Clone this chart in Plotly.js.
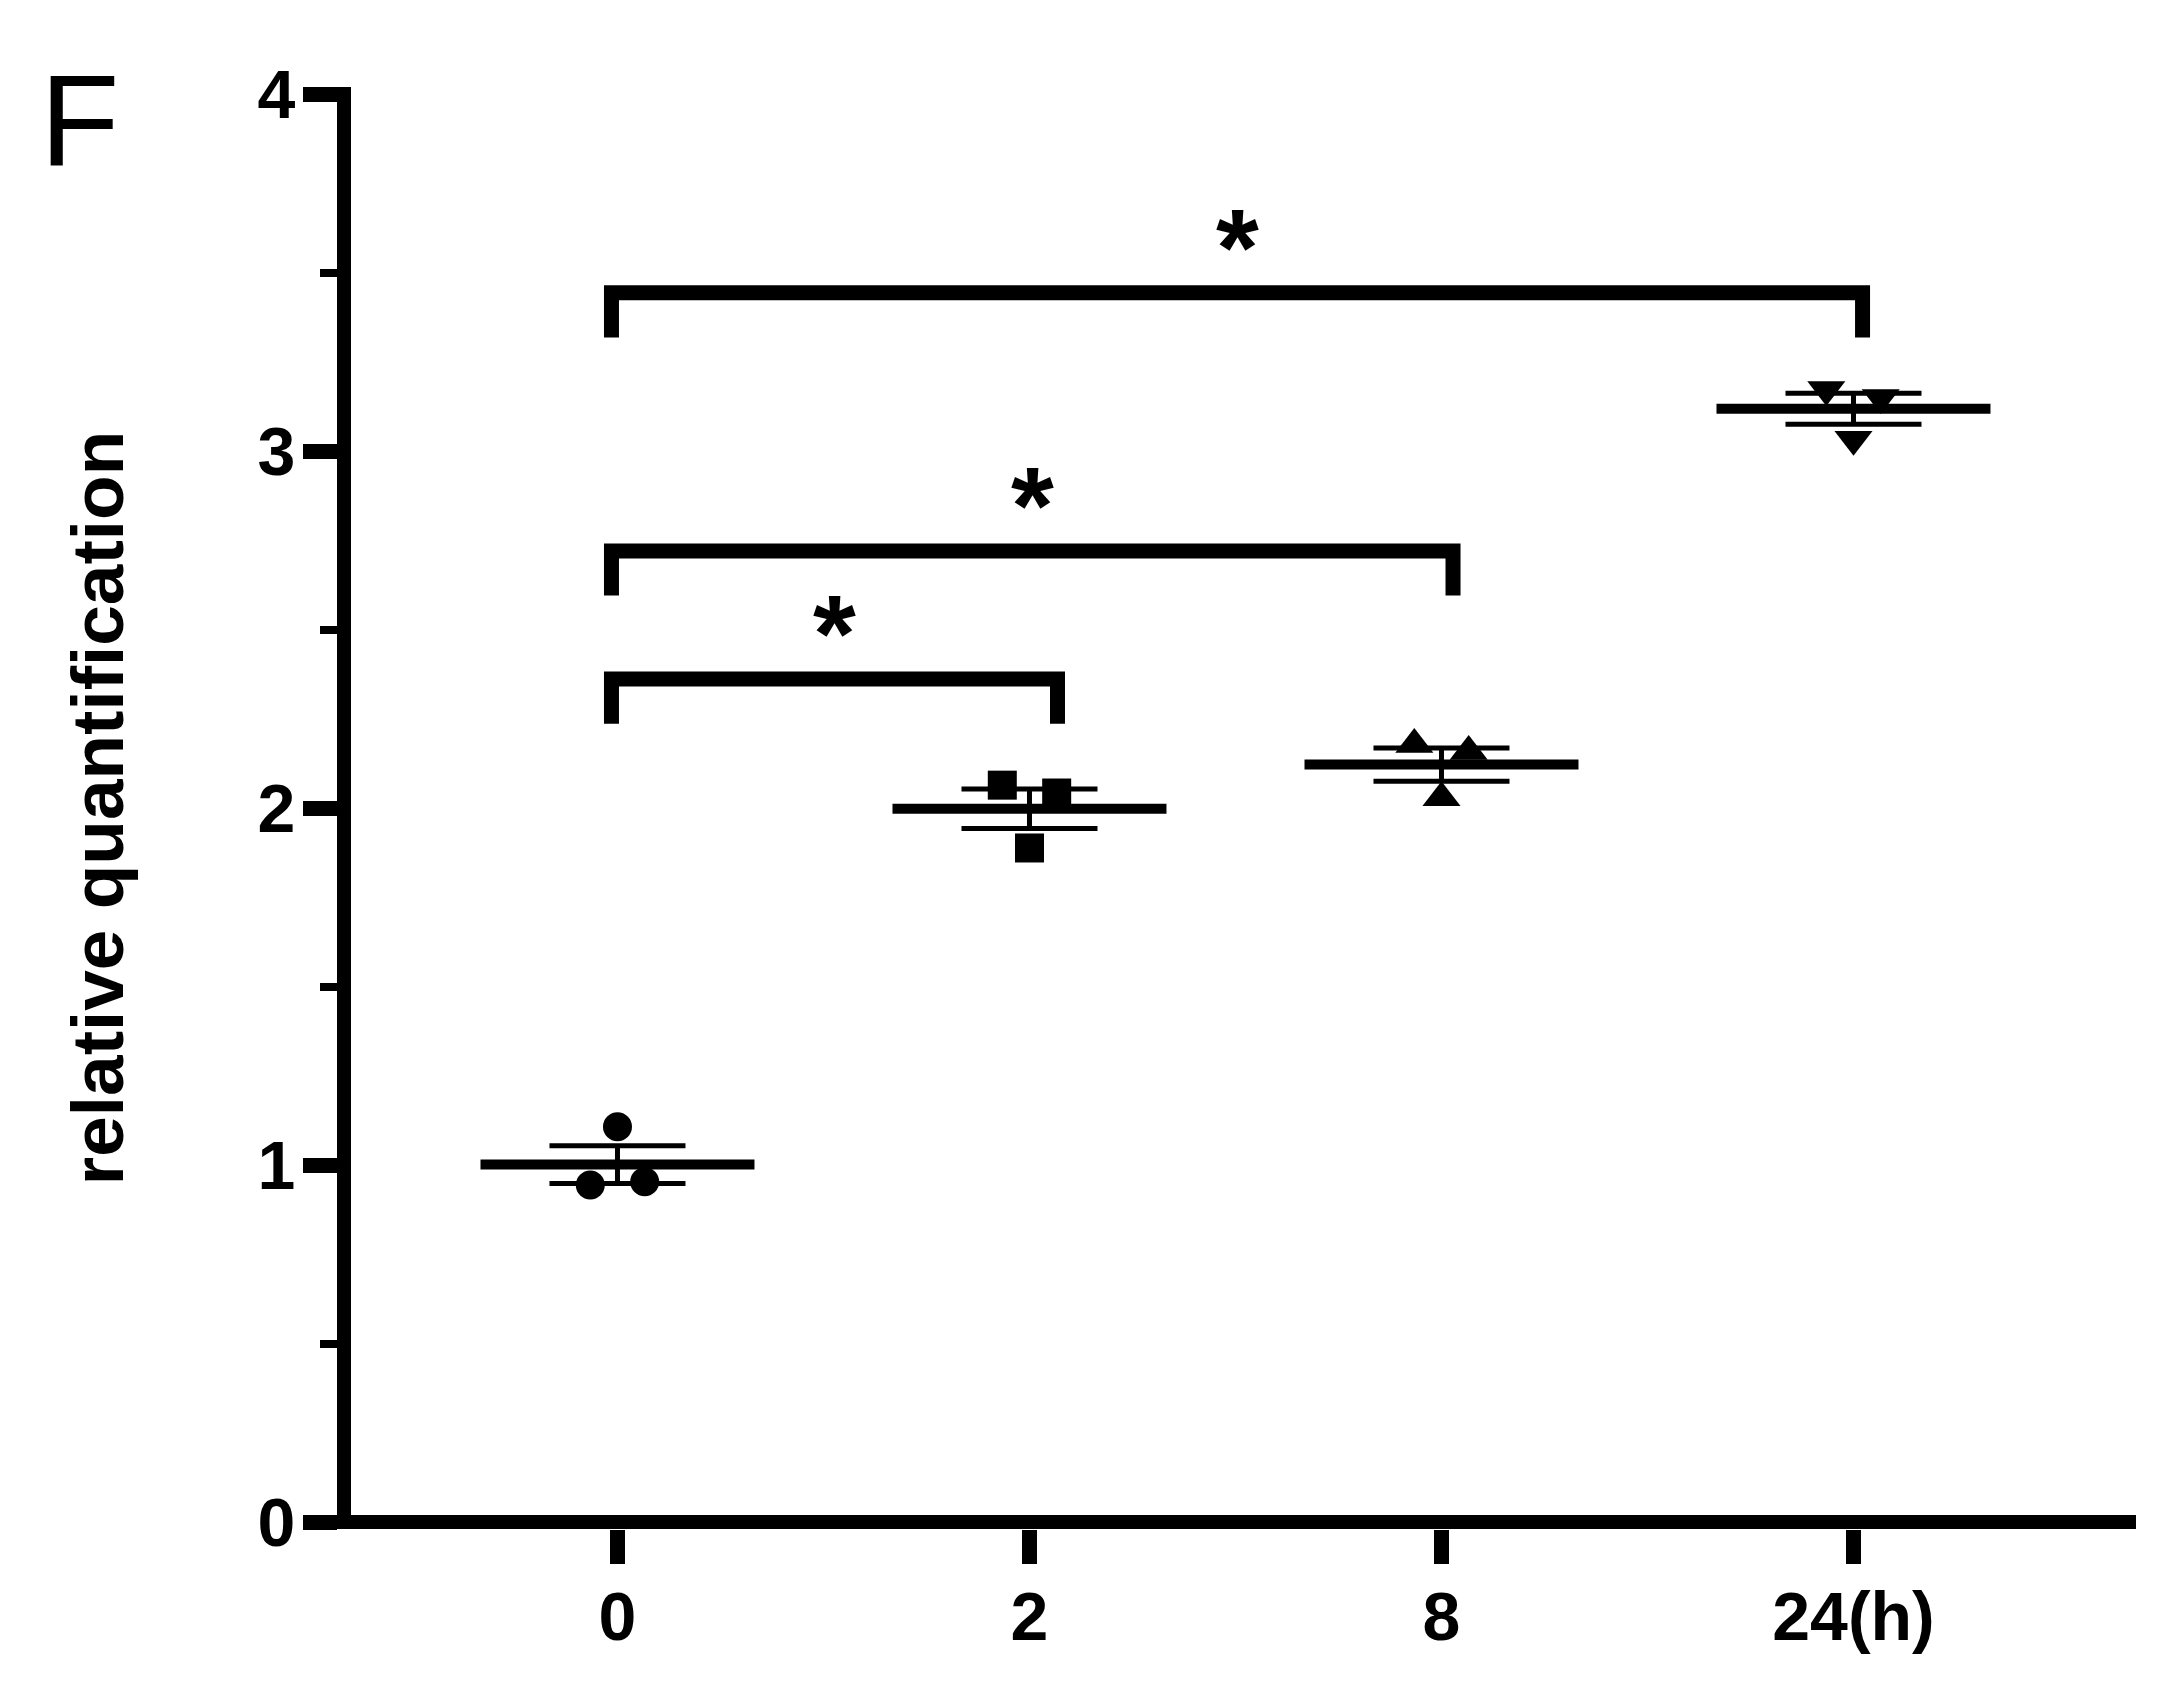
<!DOCTYPE html>
<html><head><meta charset="utf-8">
<script src="https://cdn.plot.ly/plotly-3.0.1.min.js"></script>
<style>html,body{margin:0;padding:0;background:#fff}</style>
</head><body><div id="chart" style="width:2182px;height:1708px"></div>
<script>
// ---- data ----
const categories = ['0', '2', '8', '24(h)'];
const values_0h = [0.944, 1.107, 0.953];
const values_2h = [2.064, 1.888, 2.042];
const values_8h = [2.178, 2.029, 2.158];
const values_24h = [3.172, 3.033, 3.150];
const yTickVals = [0, 1, 2, 3, 4];
const yTickText = ['0', '1', '2', '3', '4'];
const sigFrom = [0, 0, 0];
const sigTo = [3, 2, 1];
const sigHeight = [3.443, 2.720, 2.361];
const sigLabel = ['*', '*', '*'];
const yAxisTitle = 'relative quantification';
const panelLabel = 'F';

// ---- style ----
const FONT = 'Liberation Sans, Arial, sans-serif';
const symbols = ['circle', 'square', 'triangle-up', 'triangle-down'];
const symbolSize = [29, 29, 33, 33];
const JITTER = [-0.066, 0, 0.066];
const MEAN_HALF = 0.3325;
const LEG_LEN = 0.125;
const LEFT_PAD = -0.0146;
const RIGHT_PAD = [0.022, 0.028, 0.068];

const groups = [values_0h, values_2h, values_8h, values_24h];
const traces = [];
groups.forEach((vals, i) => {
  const n = vals.length;
  const mean = vals.reduce((a, b) => a + b, 0) / n;
  const sd = Math.sqrt(vals.reduce((a, v) => a + (v - mean) ** 2, 0) / (n - 1));
  const sem = sd / Math.sqrt(n);
  traces.push({
    x: [i - MEAN_HALF, i + MEAN_HALF], y: [mean, mean], mode: 'lines',
    line: {color: 'black', width: 10}, hoverinfo: 'skip', showlegend: false
  });
  traces.push({
    x: [i], y: [mean], mode: 'markers',
    marker: {size: 1, color: 'rgba(0,0,0,0)'},
    error_y: {type: 'data', array: [sem], visible: true, color: 'black', thickness: 5, width: 68},
    hoverinfo: 'skip', showlegend: false
  });
  traces.push({
    x: vals.map((v, k) => i + JITTER[k]), y: vals, mode: 'markers',
    marker: {symbol: symbols[i], size: symbolSize[i], color: 'black', line: {width: 0}},
    showlegend: false
  });
});

const shapes = [];
const annotations = [];
sigFrom.forEach((a, k) => {
  const b = sigTo[k];
  const h = sigHeight[k];
  const x0 = a + LEFT_PAD, x1 = b + RIGHT_PAD[k];
  shapes.push({
    type: 'path', xref: 'x', yref: 'y',
    path: `M ${x0},${h - LEG_LEN} L ${x0},${h} L ${x1},${h} L ${x1},${h - LEG_LEN}`,
    line: {color: 'black', width: 15}
  });
  annotations.push({
    x: (x0 + x1) / 2, y: h, xref: 'x', yref: 'y', text: sigLabel[k], showarrow: false,
    xanchor: 'center', yanchor: 'bottom', yshift: -17,
    font: {family: FONT, size: 110, weight: 'bold', color: 'black'}
  });
});
annotations.push({
  x: (38 - 351) / 1785, y: 1 + (87 - 45) / 1442, xref: 'paper', yref: 'paper',
  text: panelLabel, showarrow: false, xanchor: 'left', yanchor: 'top',
  font: {family: 'Liberation Sans, Arial', size: 130, color: 'black'}
});

const layout = {
  width: 2182, height: 1708,
  margin: {l: 351, r: 46, t: 87, b: 179},
  paper_bgcolor: 'white', plot_bgcolor: 'white',
  font: {family: FONT, color: 'black'},
  showlegend: false,
  xaxis: {
    range: [-0.6468, 3.6857], tickvals: [0, 1, 2, 3], ticktext: categories,
    ticks: 'outside', ticklen: 34, tickwidth: 15, tickcolor: 'black',
    showline: false, zeroline: false, showgrid: false, ticklabelstandoff: -6,
    tickfont: {family: FONT, size: 68, weight: 'bold', color: 'black'}
  },
  yaxis: {
    range: [-0.0196, 4.0196], tickvals: yTickVals, ticktext: yTickText,
    ticks: 'outside', ticklen: 34, tickwidth: 15, tickcolor: 'black',
    showline: true, linewidth: 14, linecolor: 'black', ticklabelstandoff: -6,
    zeroline: true, zerolinewidth: 14, zerolinecolor: 'black', showgrid: false,
    minor: {dtick: 0.5, tick0: 0, ticks: 'outside', ticklen: 17, tickwidth: 8, tickcolor: 'black', showgrid: false},
    tickfont: {family: FONT, size: 68, weight: 'bold', color: 'black'},
    title: {text: yAxisTitle, standoff: 116, font: {family: FONT, size: 73, weight: 'bold', color: 'black'}}
  },
  shapes: shapes,
  annotations: annotations
};

Plotly.newPlot('chart', traces, layout, {staticPlot: true, displayModeBar: false});
</script>
</body></html>
